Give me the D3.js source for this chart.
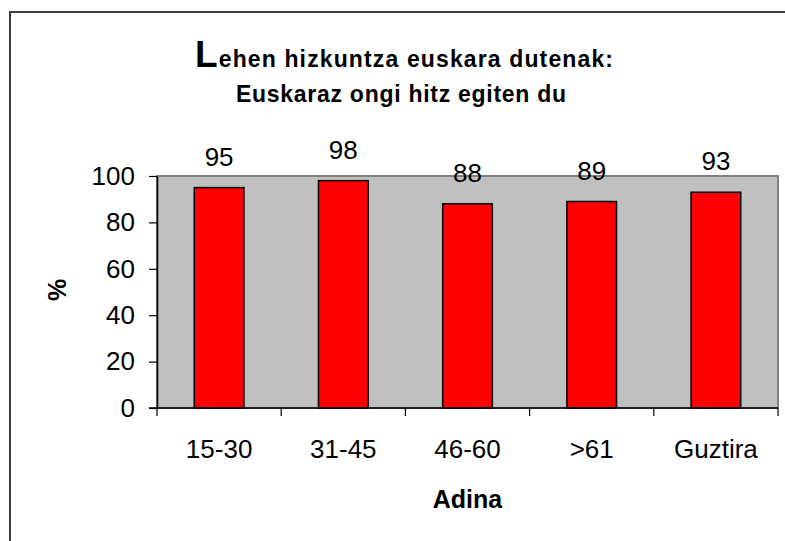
<!DOCTYPE html>
<html>
<head>
<meta charset="utf-8">
<script src="https://cdn.jsdelivr.net/npm/d3@7"></script>
<style>
  body { margin: 0; background: #fff; }
  svg text { font-family: "Liberation Sans", Arial, sans-serif; fill: #000; }
</style>
</head>
<body>
<svg id="chart" width="785" height="541"></svg>
<script>
// data
var categories = ["15-30", "31-45", "46-60", ">61", "Guztira"];
var values = [95, 98, 88, 89, 93];
var yTicks = [0, 20, 40, 60, 80, 100];

var svg = d3.select("#chart");

// outer frame (runs off the right and bottom of the picture)
svg.append("rect")
    .attr("x", 10).attr("y", 12)
    .attr("width", 800).attr("height", 560)
    .attr("fill", "#fff")
    .attr("stroke", "#3c3c3c")
    .attr("stroke-width", 2);

var plotLeft = 157, plotRight = 778, plotTop = 176, plotBottom = 408;

var x = d3.scaleBand().domain(categories).range([plotLeft, plotRight]).padding(0);
var y = d3.scaleLinear().domain([0, 100]).range([plotBottom, plotTop]);

// plot area
svg.append("rect")
    .attr("x", plotLeft).attr("y", plotTop)
    .attr("width", plotRight - plotLeft).attr("height", plotBottom - plotTop)
    .attr("fill", "#c0c0c0")
    .attr("stroke", "#808080")
    .attr("stroke-width", 2);

// bars
var barW = x.bandwidth() * 0.4;
svg.selectAll("rect.bar").data(values).enter().append("rect")
    .attr("class", "bar")
    .attr("x", function(d, i) { return x(categories[i]) + (x.bandwidth() - barW) / 2; })
    .attr("y", function(d) { return y(d); })
    .attr("width", barW)
    .attr("height", function(d) { return plotBottom - y(d); })
    .attr("fill", "#ff0000")
    .attr("stroke", "#000")
    .attr("stroke-width", 1.5);

// value labels
svg.selectAll("text.val").data(values).enter().append("text")
    .attr("class", "val")
    .attr("x", function(d, i) { return x(categories[i]) + x.bandwidth() / 2; })
    .attr("y", function(d) { return y(d) - 22; })
    .attr("text-anchor", "middle")
    .style("font-size", "26px")
    .text(function(d) { return d; });

// y axis
var yAxis = svg.append("g")
    .attr("transform", "translate(" + plotLeft + ",0)")
    .call(d3.axisLeft(y).tickValues(yTicks).tickSize(8).tickSizeOuter(0).tickPadding(14));
yAxis.select(".domain").attr("stroke", "#000").attr("stroke-width", 1.5);
yAxis.selectAll(".tick line").attr("stroke", "#000").attr("stroke-width", 1.2);
yAxis.selectAll(".tick text")
    .style("font-size", "26px")
    .style("font-family", "'Liberation Sans', Arial, sans-serif")
    .attr("fill", "#000");

// x axis line and ticks between categories
svg.append("line")
    .attr("x1", plotLeft - 8).attr("x2", plotRight)
    .attr("y1", plotBottom).attr("y2", plotBottom)
    .attr("stroke", "#000").attr("stroke-width", 1.5);
var boundaries = categories.map(function(c) { return x(c); }).concat([plotRight]);
svg.selectAll("line.xtick").data(boundaries).enter().append("line")
    .attr("class", "xtick")
    .attr("x1", function(d) { return d; }).attr("x2", function(d) { return d; })
    .attr("y1", plotBottom).attr("y2", plotBottom + 8)
    .attr("stroke", "#000").attr("stroke-width", 1.2);

svg.selectAll("text.cat").data(categories).enter().append("text")
    .attr("class", "cat")
    .attr("x", function(d) { return x(d) + x.bandwidth() / 2; })
    .attr("y", 458)
    .attr("text-anchor", "middle")
    .style("font-size", "26px")
    .text(function(d) { return d; });

// axis titles
svg.append("text")
    .attr("x", (plotLeft + plotRight) / 2).attr("y", 508)
    .attr("text-anchor", "middle")
    .style("font-size", "25px").style("font-weight", "bold")
    .text("Adina");

svg.append("text")
    .attr("transform", "translate(66,290) rotate(-90)")
    .attr("text-anchor", "middle")
    .style("font-size", "25px").style("font-weight", "bold")
    .text("%");

// title
var t1 = svg.append("text")
    .attr("x", 195).attr("y", 67)
    .attr("textLength", 418).attr("lengthAdjust", "spacing")
    .style("font-size", "23px").style("font-weight", "bold");
t1.append("tspan").style("font-size", "37px").text("L");
t1.append("tspan").text("ehen hizkuntza euskara dutenak:");

svg.append("text")
    .attr("x", 236).attr("y", 102)
    .attr("textLength", 330).attr("lengthAdjust", "spacing")
    .style("font-size", "23px").style("font-weight", "bold")
    .text("Euskaraz ongi hitz egiten du");
</script>
</body>
</html>
